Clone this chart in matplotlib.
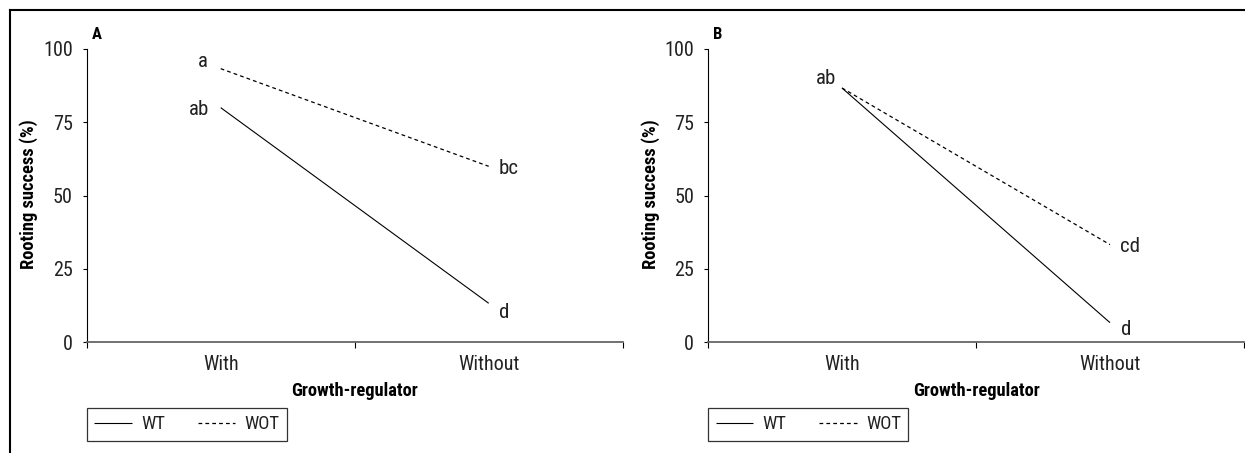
import matplotlib
matplotlib.use("Agg")
import matplotlib.pyplot as plt
from matplotlib import font_manager
from matplotlib.lines import Line2D

# ---- data ----
categories = ["With", "Without"]
panel_labels = ["A", "B"]
wt_values = [[80.0, 13.3], [86.7, 6.7]]
wot_values = [[93.3, 60.0], [86.7, 33.3]]
letters = [
    [("a", -0.066, 95.6), ("ab", -0.08, 79.5), ("bc", 1.074, 59.4), ("d", 1.056, 10.3)],
    [("ab", -0.06, 89.8), ("cd", 1.075, 32.8), ("d", 1.06, 4.2)],
]
yticks = [0, 25, 50, 75, 100]
series_names = ["WT", "WOT"]

# choose a condensed sans font if one is installed
cands = []
for f in font_manager.fontManager.ttflist:
    nm = f.name
    st = str(f.stretch)
    if ("Narrow" in nm or "Condensed" in nm or st in ("condensed", "semi-condensed", "extra-condensed")) and f.style == "normal":
        cands.append((nm, st))
pref = ["Liberation Sans Narrow", "Arial Narrow", "Roboto Condensed", "Open Sans Condensed",
        "Noto Sans Condensed", "DejaVu Sans Condensed", "Noto Sans", "DejaVu Sans", "Open Sans"]
chosen = None
for p in pref:
    for nm, st in cands:
        if nm == p:
            chosen = (nm, st)
            break
    if chosen:
        break
if chosen is None and cands:
    chosen = cands[0]
if chosen:
    plt.rcParams["font.family"] = [chosen[0], "DejaVu Sans"]
    plt.rcParams["font.stretch"] = chosen[1] if chosen[1] not in ("normal", "400", "500") else "normal"
else:
    plt.rcParams["font.family"] = ["DejaVu Sans"]

W, H = 1245, 453
fig = plt.figure(figsize=(W / 100, H / 100), dpi=100)

lefts = [86.7, 708]
ax_w = 536
ax_bot = 342.3
ax_top = 49

for i in range(2):
    ax = fig.add_axes([lefts[i] / W, 1 - ax_bot / H, ax_w / W, (ax_bot - ax_top) / H])
    x = list(range(len(categories)))
    ax.plot(x, wt_values[i], color="black", lw=0.8, solid_capstyle="butt", label=series_names[0])
    ax.plot(x, wot_values[i], color="black", lw=0.9, linestyle=(0, (3, 2.5)), label=series_names[1])
    ax.set_xlim(-0.5, 1.5)
    ax.set_ylim(0, 100)
    ax.spines["top"].set_visible(False)
    ax.spines["right"].set_visible(False)
    ax.spines["left"].set_linewidth(0.8)
    ax.spines["bottom"].set_linewidth(1.3)
    ax.spines["bottom"].set_color("#666666")
    ax.set_yticks(yticks)
    ax.tick_params(axis="y", length=3, width=0.8, pad=7, labelsize=14.5)
    ax.set_xticks([-0.5, 0.5, 1.5])
    ax.set_xticklabels(["", "", ""])
    ax.set_xticks(x, minor=True)
    ax.set_xticklabels(categories, minor=True)
    ax.tick_params(axis="x", which="major", length=4, width=0.8, direction="out")
    ax.tick_params(axis="x", which="minor", length=0, pad=9, labelsize=14.5)
    for t in ax.get_yticklabels() + ax.get_xticklabels(minor=True):
        t.set_color("#222222")
    ax.set_ylabel("Rooting success (%)", fontsize=13.3, fontweight="bold")
    ax.yaxis.set_label_coords(-0.09, 0.506)
    ax.set_xlabel("Growth-regulator", fontsize=13.3, fontweight="bold")
    ax.xaxis.set_label_coords(0.5, -0.135)
    ax.text(0.01, 1.048, panel_labels[i], transform=ax.transAxes, fontsize=12,
            fontweight="bold", ha="left", va="center")
    for (s, lx, ly) in letters[i]:
        ax.text(lx, ly, s, fontsize=15, ha="center", va="center", color="#222222")
    leg = ax.legend(loc="upper left", bbox_to_anchor=(0, -0.224), ncol=2, frameon=True,
                    fancybox=False, edgecolor="black", fontsize=13.5, handlelength=2.0,
                    handletextpad=0.5, columnspacing=1.75, borderaxespad=0, borderpad=0.4)
    leg.get_frame().set_linewidth(0.9)
    for t in leg.get_texts():
        t.set_color("#222222")

# outer frame (top and left)
fig.add_artist(Line2D([10 / W, 1], [1 - 10 / H, 1 - 10 / H], color="black", lw=1.5,
                      transform=fig.transFigure))
fig.add_artist(Line2D([10 / W, 10 / W], [0, 1 - 10 / H], color="black", lw=1.5,
                      transform=fig.transFigure))

fig.savefig("out.png", dpi=100)
